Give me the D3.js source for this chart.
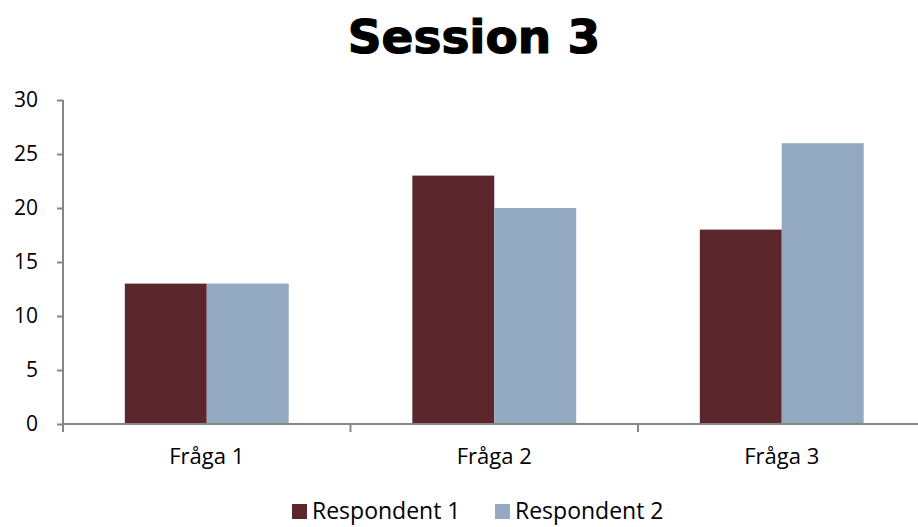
<!DOCTYPE html>
<html>
<head>
<meta charset="utf-8">
<script src="https://cdn.jsdelivr.net/npm/d3@7/dist/d3.min.js"></script>
<style>
  html, body { margin: 0; padding: 0; background: #fff; }
  svg { display: block; }
</style>
</head>
<body>
<svg id="chart" width="918" height="527"></svg>
<script>
// Chart data
const categories = ["Fråga 1", "Fråga 2", "Fråga 3"];
const seriesNames = ["Respondent 1", "Respondent 2"];
const respondent1 = [13, 23, 18];
const respondent2 = [13, 20, 26];
const yTicks = [0, 5, 10, 15, 20, 25, 30];
const colors = ["#5C262D", "#92A9C1"];

const svg = d3.select("#chart");
const margin = { left: 63, top: 100, bottom: 103 };
const width = 918, height = 527;
// plot area runs slightly past the right edge of the canvas
const innerW = 862.5;
const innerH = height - margin.top - margin.bottom;

const g = svg.append("g").attr("transform", `translate(${margin.left},${margin.top})`);

const x0 = d3.scaleBand().domain(categories).range([0, innerW]).paddingInner(0.43).paddingOuter(0.215);
const x1 = d3.scaleBand().domain(seriesNames).range([0, x0.bandwidth()]).padding(0);
const y = d3.scaleLinear().domain([0, 30]).range([innerH, 0]);

const rows = categories.map((c, i) => ({ cat: c, values: [respondent1[i], respondent2[i]] }));

// Bars
g.selectAll("g.grp").data(rows).join("g")
  .attr("class", "grp")
  .attr("transform", d => `translate(${x0(d.cat)},0)`)
  .selectAll("rect").data(d => d.values.map((v, j) => ({ v, s: seriesNames[j], j })))
  .join("rect")
  .attr("x", d => x1(d.s))
  .attr("y", d => y(d.v))
  .attr("width", x1.bandwidth())
  .attr("height", d => innerH - y(d.v))
  .attr("fill", d => colors[d.j]);

const axisColor = "#868686";
const fontFam = "'Open Sans', 'Liberation Sans', sans-serif";

// Y axis
const yAxis = g.append("g").call(d3.axisLeft(y).tickValues(yTicks).tickSize(6).tickPadding(19));
yAxis.select(".domain").attr("stroke", axisColor).attr("stroke-width", 2).attr("d", `M0,0V${innerH}`);
yAxis.selectAll(".tick line").attr("stroke", axisColor).attr("stroke-width", 2);
yAxis.selectAll("text").attr("fill", "#000").style("font-family", fontFam).style("font-size", "21px");

// X axis with tick marks at category boundaries
const xg = g.append("g").attr("transform", `translate(0,${innerH})`);
xg.append("line").attr("x1", 0).attr("x2", innerW).attr("stroke", axisColor).attr("stroke-width", 2);
const step = x0.step();
xg.selectAll("line.tk").data(d3.range(categories.length + 1)).join("line")
  .attr("class", "tk")
  .attr("x1", d => d * step).attr("x2", d => d * step)
  .attr("y1", 0).attr("y2", 8)
  .attr("stroke", axisColor).attr("stroke-width", 2);
xg.selectAll("text").data(categories).join("text")
  .attr("x", d => x0(d) + x0.bandwidth() / 2)
  .attr("y", 40)
  .attr("text-anchor", "middle")
  .style("font-family", fontFam).style("font-size", "22px")
  .text(d => d);

// Title
svg.append("text")
  .attr("x", 474).attr("y", 53)
  .attr("text-anchor", "middle")
  .style("font-family", "'DejaVu Sans', sans-serif")
  .style("font-weight", "bold")
  .style("font-size", "47px")
  .attr("stroke", "#000")
  .attr("stroke-width", 1.2)
  .text("Session 3");

// Legend
const legendX = [292, 495];
const leg = svg.selectAll("g.leg").data(seriesNames).join("g")
  .attr("class", "leg")
  .attr("transform", (d, i) => `translate(${legendX[i]},504)`);
leg.append("rect").attr("width", 15).attr("height", 15).attr("fill", (d, i) => colors[i]);
leg.append("text").attr("x", 20).attr("y", 14.5)
  .style("font-family", fontFam).style("font-size", "23px")
  .text(d => d);
</script>
</body>
</html>
